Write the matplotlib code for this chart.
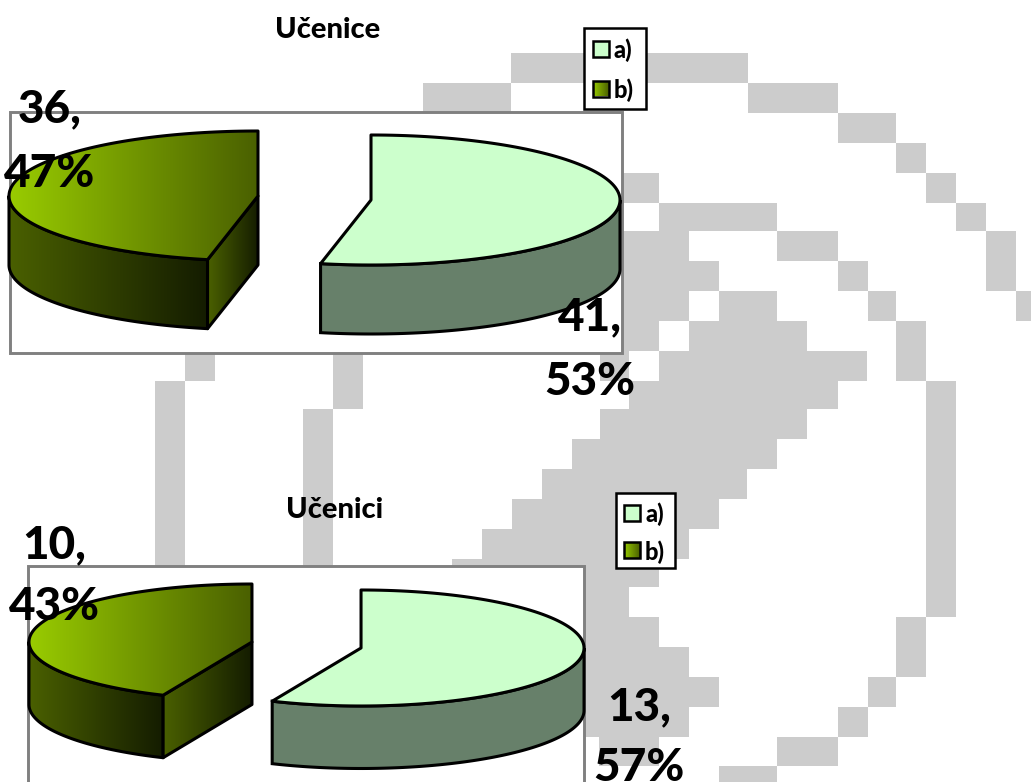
import numpy as np
import matplotlib
matplotlib.use('Agg')
import matplotlib.pyplot as plt
from matplotlib.patches import Polygon, Rectangle
from matplotlib.colors import to_rgb

plt.rcParams['font.family'] = ['Lato', 'DejaVu Sans']

series_names = ['a)', 'b)']
values_girls = [41, 36]
values_boys = [13, 10]
title_girls = 'Učenice'
title_boys = 'Učenici'

# background watermark blocks, x0, y0, x1, y1 in pixels
blocks = [(511, 53, 748, 83), (423, 83, 511, 113), (748, 83, 838, 113), (838, 113, 896, 143),
          (896, 143, 926, 173), (926, 173, 956, 203), (956, 203, 986, 231), (986, 231, 1016, 291),
          (1016, 291, 1031, 321),
          (620, 173, 659, 203), (659, 203, 777, 231), (620, 231, 689, 261), (777, 231, 838, 261),
          (620, 261, 719, 291), (838, 261, 868, 291), (620, 291, 689, 321), (719, 291, 777, 321),
          (868, 291, 896, 321), (620, 321, 659, 351), (689, 321, 807, 351), (896, 321, 926, 381),
          (600, 351, 629, 381), (659, 351, 867, 381), (926, 381, 956, 617), (896, 617, 926, 677),
          (868, 677, 896, 707), (838, 707, 868, 737), (777, 737, 838, 766), (719, 766, 777, 782),
          (629, 381, 838, 409), (600, 409, 807, 439), (572, 439, 777, 469), (542, 469, 747, 499),
          (512, 499, 719, 529), (482, 529, 689, 559), (452, 559, 659, 587), (452, 587, 629, 617),
          (452, 617, 659, 647), (452, 647, 689, 677), (452, 677, 719, 707), (452, 707, 689, 737),
          (599, 737, 659, 766),
          (185, 353, 215, 381), (155, 381, 185, 566), (333, 353, 363, 409), (303, 409, 333, 566)]

LIGHT = '#CCFFCC'
LIGHT_SIDE = '#67806A'
GREEN = '#99CC00'
MID = '#4A6000'
DARK = '#141C00'
EDGE_W = 2.2


def grad(ax, poly, c0, c1, z):
    # left to right gradient clipped to a polygon
    x0, x1 = poly[:, 0].min(), poly[:, 0].max()
    y0, y1 = poly[:, 1].min(), poly[:, 1].max()
    t = np.linspace(0, 1, 256)[None, :, None]
    img = (1 - t) * np.array(to_rgb(c0)) + t * np.array(to_rgb(c1))
    im = ax.imshow(img, extent=(x0, x1, y1, y0), aspect='auto', zorder=z, interpolation='bilinear')
    clip = Polygon(poly, closed=True, transform=ax.transData, fc='none', ec='none')
    ax.add_patch(clip)
    im.set_clip_path(clip)


def rim(cx, cy, a, b, t0, t1):
    t = np.radians(np.linspace(t0, t1, 120))
    return np.column_stack([cx + a * np.cos(t), cy - b * np.sin(t)])


def outline(ax, poly, z):
    ax.add_patch(Polygon(poly, closed=True, fc='none', ec='black', lw=EDGE_W, joinstyle='round', zorder=z))


def pie3d(ax, values, cx, cy, a, b, depth, expl, squash):
    share = values[0] / sum(values)
    end = 90 - 360 * share
    mid1 = np.radians(90 - 180 * share)
    mid2 = np.radians(end - 180 * (1 - share))
    # first slice, flat light colour
    x1 = cx + expl * np.cos(mid1)
    y1 = cy - expl * squash * np.sin(mid1)
    side = rim(x1, y1, a, b, 0, end)
    side = np.vstack([side, side[::-1] + [0, depth]])
    ax.add_patch(Polygon(side, closed=True, fc=LIGHT_SIDE, ec='black', lw=EDGE_W, zorder=4))
    top = np.vstack([[x1, y1], rim(x1, y1, a, b, 90, end)])
    ax.add_patch(Polygon(top, closed=True, fc=LIGHT, ec='black', lw=EDGE_W, joinstyle='round', zorder=5))
    # second slice, gradient
    x2 = cx + expl * np.cos(mid2)
    y2 = cy - expl * squash * np.sin(mid2)
    side = rim(x2, y2, a, b, end, -180)
    side = np.vstack([side, side[::-1] + [0, depth]])
    grad(ax, side, MID, DARK, 4)
    outline(ax, side, 4.1)
    p = rim(x2, y2, a, b, end, end)[0]
    face = np.array([[x2, y2], p, p + [0, depth], [x2, y2 + depth]])
    grad(ax, face, MID, DARK, 4.2)
    outline(ax, face, 4.3)
    top = np.vstack([[x2, y2], rim(x2, y2, a, b, end, -270)])
    grad(ax, top, GREEN, MID, 5)
    outline(ax, top, 5.1)


def legend_box(ax, x0, y0, x1, y1, sx, sy, size, tx):
    ax.add_patch(Rectangle((x0, y0), x1 - x0, y1 - y0, fc='white', ec='black', lw=1.8, zorder=6))
    ax.add_patch(Rectangle((sx, sy[0]), size, size, fc=LIGHT, ec='black', lw=1.8, zorder=7))
    sw = np.array([[sx, sy[1]], [sx + size, sy[1]], [sx + size, sy[1] + size], [sx, sy[1] + size]])
    grad(ax, sw, GREEN, MID, 7)
    ax.add_patch(Rectangle((sx, sy[1]), size, size, fc='none', ec='black', lw=1.8, zorder=7.1))
    for name, s in zip(series_names, sy):
        ax.text(tx, s + size / 2 + 2, name, fontsize=fs_legend, fontweight='black', va='center', ha='left', zorder=8)


def labels(ax, values, spots):
    # value and share on two widely spaced lines
    for v, (x, y1, y2) in zip(values, spots):
        ax.text(x, y1, f'{v},', fontsize=33, fontweight='black', ha='center', va='baseline', zorder=9, clip_on=False)
        ax.text(x, y2, f'{round(100 * v / sum(values))}%', fontsize=33, fontweight='black',
                ha='center', va='baseline', zorder=9, clip_on=False)


fs_legend = 17

fig = plt.figure(figsize=(10.31, 7.82), dpi=100)
ax = fig.add_axes([0, 0, 1, 1])

for x0, y0, x1, y1 in blocks:
    ax.add_patch(Rectangle((x0, y0), x1 - x0, y1 - y0, fc='#CCCCCC', ec='none', zorder=1))

ax.add_patch(Rectangle((10, 112), 612, 241, fc='white', ec='#808080', lw=2.1, zorder=2))
ax.add_patch(Rectangle((28, 566), 556, 240, fc='white', ec='#808080', lw=2.1, zorder=2))

pie3d(ax, values_girls, 314.5, 198, 249, 65, 69, 56.8, 0.345)
pie3d(ax, values_boys, 306.5, 645, 223, 58, 62.5, 55.7, 0.264)

ax.text(327.5, 29.5, title_girls, fontsize=21, fontweight='black', ha='center', va='center', zorder=9)
ax.text(334.5, 510.5, title_boys, fontsize=21, fontweight='black', ha='center', va='center', zorder=9)

legend_box(ax, 584, 28, 646, 109, 592.5, (40.5, 80.5), 16, 614)
legend_box(ax, 616, 493, 675, 568, 624, (504.5, 542), 16, 645)

labels(ax, values_girls, [(590, 330, 395), (50, 122, 187)])
labels(ax, values_boys, [(639, 720, 781), (54, 558, 620)])

ax.set_xlim(0, 1031)
ax.set_ylim(782, 0)
ax.axis('off')
fig.savefig('out.png', dpi=100)
